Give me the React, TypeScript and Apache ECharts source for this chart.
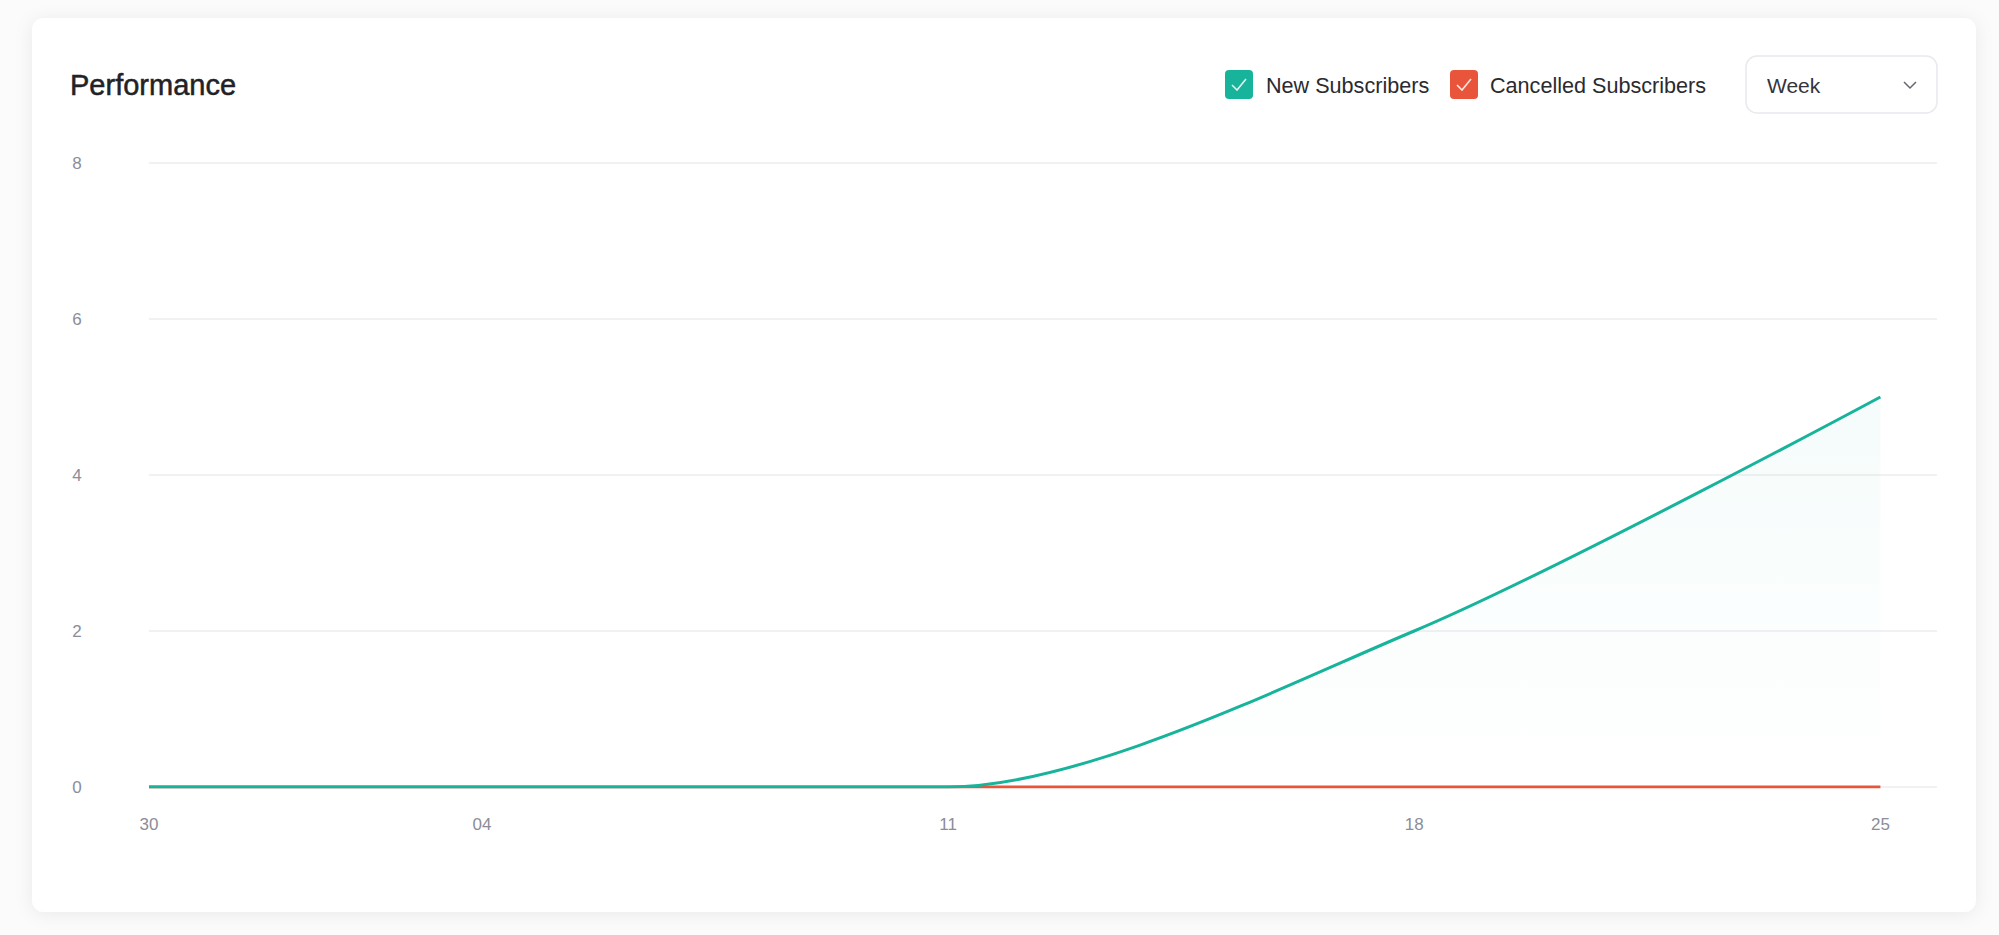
import React, { useEffect, useRef } from "react";
import * as echarts from "echarts";

// ---- data ----
const dates: string[] = ["2023-12-30", "2024-01-04", "2024-01-11", "2024-01-18", "2024-01-25"];
const newSubscribers: number[] = [0, 0, 0, 2, 5];
const cancelledSubscribers: number[] = [0, 0, 0, 0, 0];
const yTicks: number[] = [0, 2, 4, 6, 8];
const legendNames: string[] = ["New Subscribers", "Cancelled Subscribers"];
const periodLabel = "Week";
const titleText = "Performance";

const GREEN = "#17b39b";
const RED = "#e8553b";
const FONT = "'Liberation Sans', Helvetica, Arial, sans-serif";
const DAY = 86400000;

function ts(d: string): number {
  const [y, m, day] = d.split("-").map(Number);
  return new Date(y, m - 1, day).getTime();
}

export default function App() {
  const ref = useRef<HTMLDivElement>(null);

  useEffect(() => {
    if (!ref.current) return;
    const chart = echarts.init(ref.current, undefined, { renderer: "svg" });
    const t0 = ts(dates[0]);
    // day offsets from the first date
    const xs = dates.map((d) => Math.round((ts(d) - t0) / DAY));
    const xMax = xs[xs.length - 1] + 0.85;

    const check = (x: number, y: number) => ({
      type: "polyline",
      shape: { points: [[x + 7, y + 15], [x + 12, y + 20], [x + 21, y + 9]] },
      style: { stroke: "rgba(255,255,255,0.85)", lineWidth: 1.6, fill: "none" },
      z: 12,
    });

    chart.setOption({
      animation: false,
      backgroundColor: "#fbfbfc",
      textStyle: { fontFamily: FONT },
      title: {
        text: titleText,
        left: 65,
        top: 65,
        textStyle: {
          fontSize: 29,
          fontWeight: 500,
          color: "#222226",
          fontFamily: FONT,
          textBorderColor: "#222226",
          textBorderWidth: 0.5,
        },
      },
      graphic: [
        {
          type: "rect",
          shape: { x: 32, y: 18, width: 1944, height: 894, r: 12 },
          style: { fill: "#ffffff", shadowBlur: 18, shadowColor: "rgba(20,20,40,0.07)", shadowOffsetY: 2 },
          z: -10,
          silent: true,
        },
        {
          type: "rect",
          shape: { x: 1225, y: 70, width: 28, height: 29, r: 4 },
          style: { fill: GREEN },
          z: 11,
        },
        check(1225, 70),
        {
          type: "text",
          x: 1266,
          y: 85,
          style: { text: legendNames[0], fontSize: 21.6, fill: "#2a2a2f", fontFamily: FONT, verticalAlign: "middle" },
          z: 11,
        },
        {
          type: "rect",
          shape: { x: 1450, y: 70, width: 28, height: 29, r: 4 },
          style: { fill: RED },
          z: 11,
        },
        check(1450, 70),
        {
          type: "text",
          x: 1490,
          y: 85,
          style: { text: legendNames[1], fontSize: 21.6, fill: "#2a2a2f", fontFamily: FONT, verticalAlign: "middle" },
          z: 11,
        },
        {
          type: "rect",
          shape: { x: 1746, y: 56, width: 191, height: 57, r: 11 },
          style: { fill: "#ffffff", stroke: "#e9e9ee", lineWidth: 1.5 },
          z: 11,
        },
        {
          type: "text",
          x: 1767,
          y: 85,
          style: { text: periodLabel, fontSize: 21, fill: "#34343a", fontFamily: FONT, verticalAlign: "middle" },
          z: 12,
        },
        {
          type: "polyline",
          shape: { points: [[1904, 82], [1910, 88], [1916, 82]] },
          style: { stroke: "#666670", lineWidth: 1.5, fill: "none" },
          z: 12,
        },
      ],
      grid: { left: 149, right: 62, top: 163, bottom: 148, containLabel: false },
      xAxis: {
        type: "value",
        min: 0,
        max: xMax,
        axisLine: { show: false },
        axisTick: { show: false },
        splitLine: { show: false },
        axisLabel: {
          customValues: xs,
          margin: 29,
          fontSize: 17,
          color: "#8b8d98",
          fontFamily: FONT,
          hideOverlap: false,
          formatter: (v: number) => String(new Date(t0 + v * DAY).getDate()).padStart(2, "0"),
        },
      },
      yAxis: {
        type: "value",
        min: yTicks[0],
        max: yTicks[yTicks.length - 1],
        interval: 2,
        axisLine: { show: false },
        axisTick: { show: false },
        splitLine: { lineStyle: { color: "#ededf1", width: 1.5 } },
        axisLabel: {
          align: "center",
          margin: 72,
          fontSize: 17,
          color: "#8b8d98",
          fontFamily: FONT,
        },
      },
      series: [
        {
          name: legendNames[1],
          type: "line",
          data: xs.map((x, i) => [x, cancelledSubscribers[i]]),
          showSymbol: false,
          lineStyle: { color: RED, width: 3 },
          itemStyle: { color: RED },
          z: 2,
        },
        {
          name: legendNames[0],
          type: "line",
          smooth: 0.28,
          data: xs.map((x, i) => [x, newSubscribers[i]]),
          showSymbol: false,
          lineStyle: { color: GREEN, width: 3 },
          itemStyle: { color: GREEN },
          areaStyle: {
            color: new echarts.graphic.LinearGradient(0, 0, 0, 1, [
              { offset: 0, color: "rgba(23,179,155,0.06)" },
              { offset: 1, color: "rgba(23,179,155,0.0)" },
            ]),
          },
          z: 3,
        },
      ],
    });
    return () => chart.dispose();
  }, []);

  return (
    <div
      ref={ref}
      style={{ position: "absolute", left: 0, top: 0, width: 1999, height: 935 }}
    />
  );
}
